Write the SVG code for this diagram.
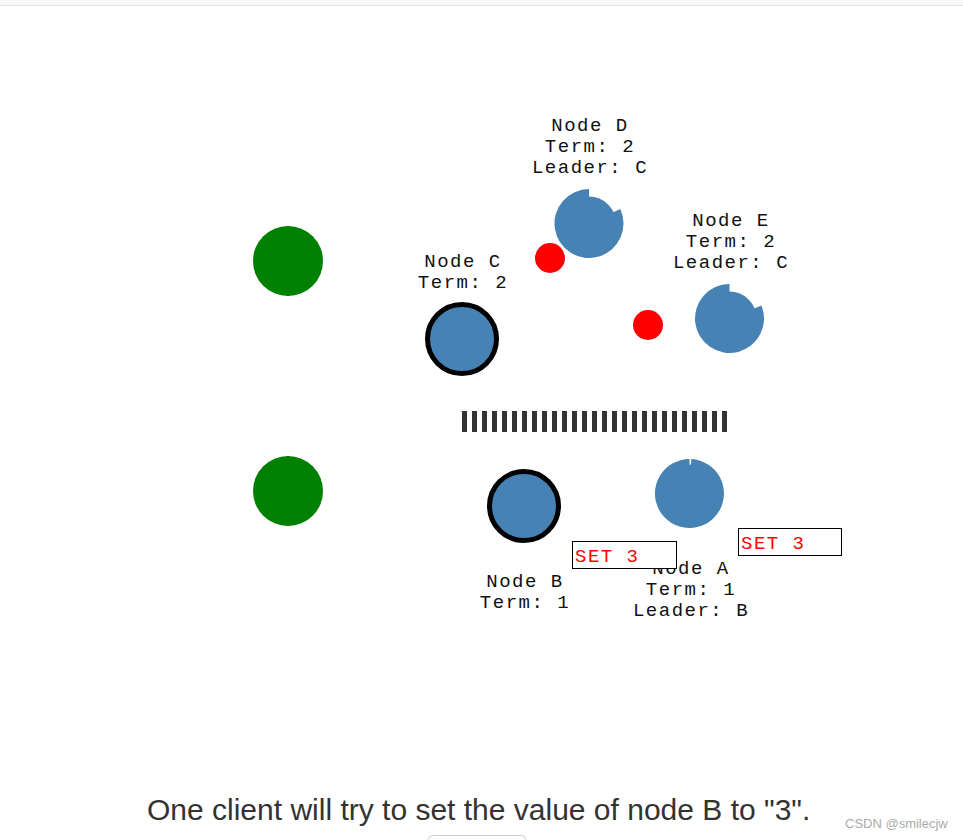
<svg xmlns="http://www.w3.org/2000/svg" width="963" height="840" viewBox="0 0 963 840">
<style>
.lbl{font-family:"Courier New","Liberation Mono",monospace;font-size:19px;letter-spacing:1.5px;fill:#111;text-anchor:middle}
.node{fill:#4682b4}
.leader{stroke:#000;stroke-width:5}
.peer{fill:#008000}
.msg{fill:#ff0000}
.bar{fill:#333}
.set{fill:#fff;stroke:#000;stroke-width:1}
.settxt{font-family:"Courier New","Liberation Mono",monospace;font-size:19px;letter-spacing:1.5px;fill:#ff0000}
</style>
<rect x="0" y="0" width="963" height="840" fill="#fff"/>
<rect x="0" y="0" width="963" height="5" fill="#f8f8f8"/>
<rect x="0" y="5" width="963" height="1" fill="#e2e2e2"/>

<g id="client1"><circle class="peer" cx="288" cy="261" r="35"/></g>
<g id="client2"><circle class="peer" cx="288" cy="491" r="35"/></g>

<g id="connectors">
<circle class="msg" cx="550" cy="258" r="15"/>
<circle class="msg" cx="648" cy="325" r="15"/>
<g id="partition">
<rect class="bar" x="462" y="411" width="5" height="21"/>
<rect class="bar" x="472" y="411" width="5" height="21"/>
<rect class="bar" x="482" y="411" width="5" height="21"/>
<rect class="bar" x="492" y="411" width="5" height="21"/>
<rect class="bar" x="502" y="411" width="5" height="21"/>
<rect class="bar" x="512" y="411" width="5" height="21"/>
<rect class="bar" x="522" y="411" width="5" height="21"/>
<rect class="bar" x="532" y="411" width="5" height="21"/>
<rect class="bar" x="542" y="411" width="5" height="21"/>
<rect class="bar" x="552" y="411" width="5" height="21"/>
<rect class="bar" x="562" y="411" width="5" height="21"/>
<rect class="bar" x="572" y="411" width="5" height="21"/>
<rect class="bar" x="582" y="411" width="5" height="21"/>
<rect class="bar" x="592" y="411" width="5" height="21"/>
<rect class="bar" x="602" y="411" width="5" height="21"/>
<rect class="bar" x="612" y="411" width="5" height="21"/>
<rect class="bar" x="622" y="411" width="5" height="21"/>
<rect class="bar" x="632" y="411" width="5" height="21"/>
<rect class="bar" x="642" y="411" width="5" height="21"/>
<rect class="bar" x="652" y="411" width="5" height="21"/>
<rect class="bar" x="662" y="411" width="5" height="21"/>
<rect class="bar" x="672" y="411" width="5" height="21"/>
<rect class="bar" x="682" y="411" width="5" height="21"/>
<rect class="bar" x="692" y="411" width="5" height="21"/>
<rect class="bar" x="702" y="411" width="5" height="21"/>
<rect class="bar" x="712" y="411" width="5" height="21"/>
<rect class="bar" x="722" y="411" width="5" height="21"/>
</g>
</g>

<g id="nodeD">
<circle class="node" cx="589" cy="223.5" r="27"/>
<path class="node" d="M589,223.5 L620.27,208.92 A34.5,34.5 0 1 1 589,189 Z"/>
<text class="lbl" x="590" y="131">Node D</text>
<text class="lbl" x="590" y="152">Term: 2</text>
<text class="lbl" x="590" y="173">Leader: C</text>
</g>

<g id="nodeE">
<circle class="node" cx="729.5" cy="318.5" r="27"/>
<path class="node" d="M729.5,318.5 L761.49,305.58 A34.5,34.5 0 1 1 729.5,284 Z"/>
<text class="lbl" x="731" y="226">Node E</text>
<text class="lbl" x="731" y="247">Term: 2</text>
<text class="lbl" x="731" y="268">Leader: C</text>
</g>

<g id="nodeC">
<circle class="node leader" cx="462" cy="339" r="34.5"/>
<text class="lbl" x="463" y="267">Node C</text>
<text class="lbl" x="463" y="288">Term: 2</text>
</g>

<g id="nodeB">
<circle class="node leader" cx="524" cy="506" r="34.5"/>
<text class="lbl" x="525" y="587">Node B</text>
<text class="lbl" x="525" y="608">Term: 1</text>
</g>

<g id="nodeA">
<circle class="node" cx="689.5" cy="493.5" r="29"/>
<path class="node" d="M689.5,493.5 L691.3,459.05 A34.5,34.5 0 1 1 689.5,459 Z"/>
<text class="lbl" x="691" y="574">Node A</text>
<text class="lbl" x="691" y="595">Term: 1</text>
<text class="lbl" x="691" y="616">Leader: B</text>
</g>

<g id="setB">
<rect class="set" x="572.5" y="541.5" width="104" height="27"/>
<text class="settxt" x="575" y="562">SET 3</text>
</g>
<g id="setA">
<rect class="set" x="738.5" y="528.5" width="103" height="27"/>
<text class="settxt" x="741" y="549">SET 3</text>
</g>

<g id="caption">
<text x="147" y="820" font-family="Liberation Sans, Arial, sans-serif" font-size="30" fill="#333">One client will try to set the value of node B to "3".</text>
<rect x="428.5" y="835.5" width="97" height="20" rx="4" fill="#fff" stroke="#ccc"/>
</g>
<text x="845" y="828" font-family="Liberation Sans, Arial, sans-serif" font-size="13" fill="#aaa">CSDN @smilecjw</text>
</svg>
